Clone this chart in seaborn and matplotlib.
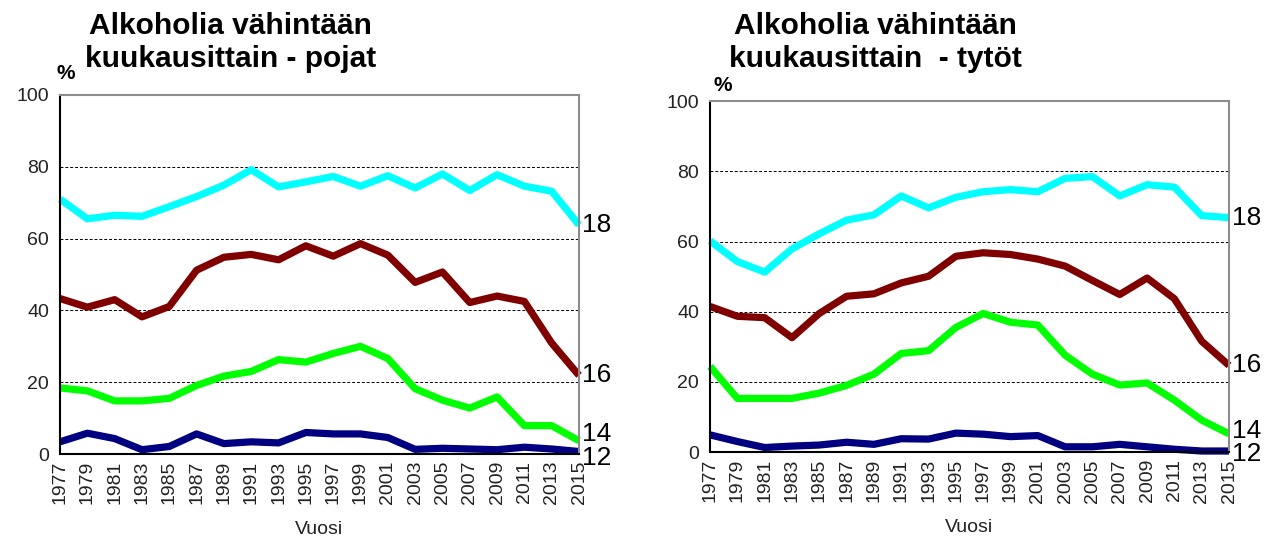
import pandas as pd
import numpy as np
import matplotlib
matplotlib.use("Agg")
import matplotlib.pyplot as plt
import seaborn as sns

sns.set_style("white")
plt.rcParams["font.family"] = ["Liberation Sans", "DejaVu Sans"]
plt.rcParams["text.color"] = "black"

# DATA
years = list(range(1977, 2016, 2))
age_groups = ["18", "16", "14", "12"]
line_colors = ["#00FFFF", "#800000", "#00FF00", "#000080"]

boys_18 = [71.0, 65.5, 66.5, 66.2, 68.9, 71.7, 74.9, 79.2, 74.4, 75.8,
           77.3, 74.6, 77.5, 74.1, 78.0, 73.4, 77.8, 74.6, 73.2, 63.8]
boys_16 = [43.3, 40.9, 43.0, 38.2, 41.1, 51.2, 54.8, 55.6, 54.1, 58.0,
           55.1, 58.6, 55.4, 47.8, 50.7, 42.2, 44.0, 42.5, 30.9, 21.9]
boys_14 = [18.4, 17.6, 14.8, 14.8, 15.5, 19.1, 21.7, 23.0, 26.3, 25.6,
           28.0, 30.0, 26.6, 18.2, 15.0, 12.8, 15.9, 7.9, 7.9, 3.7]
boys_12 = [3.4, 5.8, 4.3, 1.2, 2.1, 5.6, 2.9, 3.4, 3.1, 6.0,
           5.6, 5.6, 4.6, 1.3, 1.6, 1.4, 1.2, 1.9, 1.4, 0.7]

girls_18 = [60.2, 54.3, 51.3, 57.9, 62.2, 66.1, 67.6, 73.0, 69.6, 72.6,
            74.2, 74.8, 74.2, 78.0, 78.5, 73.0, 76.2, 75.5, 67.4, 66.8]
girls_16 = [41.5, 38.7, 38.3, 32.6, 39.5, 44.4, 45.1, 48.2, 50.1, 55.8,
            56.8, 56.3, 55.0, 53.0, 48.9, 44.9, 49.6, 43.7, 31.6, 24.7]
girls_14 = [24.4, 15.3, 15.3, 15.3, 16.8, 19.0, 22.2, 28.1, 28.9, 35.5,
            39.5, 37.0, 36.2, 27.6, 22.2, 19.1, 19.7, 14.8, 9.1, 5.2]
girls_12 = [4.9, 3.0, 1.3, 1.7, 2.0, 2.8, 2.2, 3.8, 3.7, 5.4,
            5.1, 4.4, 4.7, 1.5, 1.5, 2.2, 1.5, 0.8, 0.3, 0.3]

titles = ["Alkoholia vähintään\nkuukausittain - pojat",
          "Alkoholia vähintään\nkuukausittain  - tytöt"]


def long_form(series):
    rows = []
    for age, vals in zip(age_groups, series):
        for yr, v in zip(years, vals):
            rows.append({"Vuosi": yr, "Ikä": age, "Osuus": v})
    return pd.DataFrame(rows)


def spread_labels(values, gap=6.5):
    # push end labels apart so that 12 and 14 do not overlap
    pos = list(values)
    order = np.argsort(pos)
    for a, b in zip(order[:-1], order[1:]):
        if pos[b] - pos[a] < gap:
            mid = (pos[a] + pos[b]) / 2
            pos[a] = mid - gap / 2
            pos[b] = mid + gap / 2
    return pos


fig = plt.figure(figsize=(12.72, 5.44), dpi=100)
ax_boys = fig.add_axes([0.0472, 0.1654, 0.408, 0.66])
ax_girls = fig.add_axes([0.5582, 0.169, 0.408, 0.645])

panels = [
    (ax_boys, [boys_18, boys_16, boys_14, boys_12]),
    (ax_girls, [girls_18, girls_16, girls_14, girls_12]),
]

for ax, series in panels:
    df = long_form(series)
    sns.lineplot(data=df, x="Vuosi", y="Osuus", hue="Ikä",
                 palette=dict(zip(age_groups, line_colors)),
                 linewidth=5.2, legend=False, ax=ax)
    ax.set_xlim(years[0], years[-1])
    ax.set_ylim(0, 100)
    ax.set_xticks(years)
    ax.set_xticklabels([str(y) for y in years], rotation=90, fontsize=14,
                       color="#222222")
    ax.set_yticks(range(0, 101, 20))
    ax.set_yticklabels([str(v) for v in range(0, 101, 20)], fontsize=14,
                       color="#222222")
    ax.set_xlabel("Vuosi", fontsize=14, color="#222222", labelpad=12)
    ax.set_ylabel("")
    ax.set_axisbelow(True)
    for g in [20, 40, 60, 80]:
        ax.axhline(g, color="black", linestyle=(0, (3, 2)), linewidth=0.7,
                   zorder=0)
    ax.tick_params(axis="x", direction="inout", length=8, width=1,
                   pad=1, color="black")
    ax.tick_params(axis="y", direction="out", length=5, width=1,
                   pad=3, color="black")
    for side in ["left", "bottom"]:
        ax.spines[side].set_color("black")
        ax.spines[side].set_linewidth(1.5)
    for side in ["top", "right"]:
        ax.spines[side].set_color("#8c8c8c")
        ax.spines[side].set_linewidth(1.5)
    for line in ax.lines:
        line.set_clip_on(False)
        line.set_solid_capstyle("butt")

    ends = [vals[-1] for vals in series]
    label_y = spread_labels(ends)
    for age, yv in zip(age_groups, label_y):
        ax.text(years[-1] + 0.2, yv, age, fontsize=19, va="center",
                ha="left", color="black", clip_on=False)

# titles and the % marks
fig.text(0.181, 0.978, titles[0], fontsize=21.5, fontweight="bold",
         ha="center", va="top", linespacing=1.25)
fig.text(0.688, 0.978, titles[1], fontsize=21.5, fontweight="bold",
         ha="center", va="top", linespacing=1.25)
fig.text(0.052, 0.865, "%", fontsize=15, fontweight="bold", ha="center",
         va="center")
fig.text(0.568, 0.843, "%", fontsize=15, fontweight="bold", ha="center",
         va="center")

plt.savefig("out.png", dpi=100)
plt.close()
